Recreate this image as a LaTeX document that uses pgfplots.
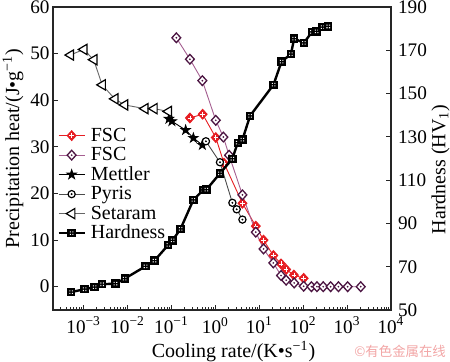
\documentclass[border=0pt]{standalone}
\usepackage{fontspec}
\setmainfont{Liberation Serif}
\newfontfamily\cjk{Noto Sans CJK SC}
\usepackage{pgfplots}
\pgfplotsset{compat=1.18}
\definecolor{fscred}{RGB}{230,30,35}
\definecolor{fscpur}{RGB}{75,20,65}
\definecolor{fscpurline}{RGB}{165,95,145}
\definecolor{wmark}{RGB}{242,165,165}

\pgfdeclareplotmark{rdiam}{\pgfscope
 \pgfsetlinewidth{0.5pt}\pgfsetfillcolor{fscred}\pgfsetstrokecolor{fscred}%
 \pgfpathmoveto{\pgfqpoint{0pt}{1.1\pgfplotmarksize}}%
 \pgfpathlineto{\pgfqpoint{\pgfplotmarksize}{0pt}}%
 \pgfpathlineto{\pgfqpoint{0pt}{-1.1\pgfplotmarksize}}%
 \pgfpathlineto{\pgfqpoint{-\pgfplotmarksize}{0pt}}%
 \pgfpathclose\pgfusepathqfillstroke
 \pgfsetstrokecolor{white}\pgfsetlinewidth{0.35pt}%
 \pgfpathmoveto{\pgfqpoint{0pt}{0.55\pgfplotmarksize}}\pgfpathlineto{\pgfqpoint{0pt}{-0.55\pgfplotmarksize}}%
 \pgfpathmoveto{\pgfqpoint{-0.5\pgfplotmarksize}{0pt}}\pgfpathlineto{\pgfqpoint{0.5\pgfplotmarksize}{0pt}}%
 \pgfusepathqstroke\endpgfscope}
\pgfdeclareplotmark{pdiam}{\pgfscope
 \pgfsetlinewidth{0.65pt}\pgfsetfillcolor{white}\pgfsetstrokecolor{fscpur}%
 \pgfpathmoveto{\pgfqpoint{0pt}{1.1\pgfplotmarksize}}%
 \pgfpathlineto{\pgfqpoint{\pgfplotmarksize}{0pt}}%
 \pgfpathlineto{\pgfqpoint{0pt}{-1.1\pgfplotmarksize}}%
 \pgfpathlineto{\pgfqpoint{-\pgfplotmarksize}{0pt}}%
 \pgfpathclose\pgfusepathqfillstroke
 \pgfsetfillcolor{fscpur}\pgfpathcircle{\pgfpointorigin}{0.22\pgfplotmarksize}\pgfusepathqfill
 \endpgfscope}
\pgfdeclareplotmark{cdot}{\pgfscope
 \pgfsetlinewidth{0.6pt}\pgfsetfillcolor{white}\pgfsetstrokecolor{black}%
 \pgfpathcircle{\pgfpointorigin}{\pgfplotmarksize}\pgfusepathqfillstroke
 \pgfsetfillcolor{black}\pgfpathcircle{\pgfpointorigin}{0.3\pgfplotmarksize}\pgfusepathqfill
 \endpgfscope}
\pgfdeclareplotmark{fstar}{\pgfscope
 \pgfsetlinewidth{0.4pt}\pgfsetfillcolor{black}\pgfsetstrokecolor{black}%
 \pgfpathmoveto{\pgfqpoint{0pt}{\pgfplotmarksize}}%
 \pgfpathlineto{\pgfqpoint{-0.2245\pgfplotmarksize}{0.309\pgfplotmarksize}}%
 \pgfpathlineto{\pgfqpoint{-0.951\pgfplotmarksize}{0.309\pgfplotmarksize}}%
 \pgfpathlineto{\pgfqpoint{-0.363\pgfplotmarksize}{-0.118\pgfplotmarksize}}%
 \pgfpathlineto{\pgfqpoint{-0.588\pgfplotmarksize}{-0.809\pgfplotmarksize}}%
 \pgfpathlineto{\pgfqpoint{0pt}{-0.382\pgfplotmarksize}}%
 \pgfpathlineto{\pgfqpoint{0.588\pgfplotmarksize}{-0.809\pgfplotmarksize}}%
 \pgfpathlineto{\pgfqpoint{0.363\pgfplotmarksize}{-0.118\pgfplotmarksize}}%
 \pgfpathlineto{\pgfqpoint{0.951\pgfplotmarksize}{0.309\pgfplotmarksize}}%
 \pgfpathlineto{\pgfqpoint{0.2245\pgfplotmarksize}{0.309\pgfplotmarksize}}%
 \pgfpathclose\pgfusepathqfillstroke\endpgfscope}
\pgfdeclareplotmark{tleft}{\pgfscope
 \pgfsetlinewidth{0.6pt}\pgfsetfillcolor{white}\pgfsetstrokecolor{black}%
 \pgfpathmoveto{\pgfqpoint{-\pgfplotmarksize}{0pt}}%
 \pgfpathlineto{\pgfqpoint{0.6\pgfplotmarksize}{0.95\pgfplotmarksize}}%
 \pgfpathlineto{\pgfqpoint{0.6\pgfplotmarksize}{-0.95\pgfplotmarksize}}%
 \pgfpathclose\pgfusepathqfillstroke\endpgfscope}
\pgfdeclareplotmark{sqd}{\pgfscope
 \pgfsetlinewidth{0.5pt}\pgfsetfillcolor{black}\pgfsetstrokecolor{black}%
 \pgfpathrectangle{\pgfqpoint{-\pgfplotmarksize}{-\pgfplotmarksize}}{\pgfqpoint{2\pgfplotmarksize}{2\pgfplotmarksize}}\pgfusepathqfillstroke
 \pgfsetfillcolor{white}%
 \pgfpathrectangle{\pgfqpoint{0.2\pgfplotmarksize}{0.2\pgfplotmarksize}}{\pgfqpoint{0.28\pgfplotmarksize}{0.28\pgfplotmarksize}}%
 \pgfpathrectangle{\pgfqpoint{-0.48\pgfplotmarksize}{0.2\pgfplotmarksize}}{\pgfqpoint{0.28\pgfplotmarksize}{0.28\pgfplotmarksize}}%
 \pgfpathrectangle{\pgfqpoint{0.2\pgfplotmarksize}{-0.48\pgfplotmarksize}}{\pgfqpoint{0.28\pgfplotmarksize}{0.28\pgfplotmarksize}}%
 \pgfpathrectangle{\pgfqpoint{-0.48\pgfplotmarksize}{-0.48\pgfplotmarksize}}{\pgfqpoint{0.28\pgfplotmarksize}{0.28\pgfplotmarksize}}%
 \pgfusepathqfill\endpgfscope}

\pgfplotsset{
 sRed/.style={color=fscred, line width=0.45pt, mark=rdiam, mark size=2.2pt},
 sPur/.style={color=fscpurline, line width=0.45pt, mark=pdiam, mark size=2.2pt},
 sMet/.style={color=black, line width=0.45pt, mark=fstar, mark size=2.5pt},
 sPyr/.style={color=black!70, line width=0.45pt, mark=cdot, mark size=1.8pt},
 sSet/.style={color=black!60, line width=0.45pt, mark=tleft, mark size=2.7pt},
 sHard/.style={color=black, line width=1.2pt, mark=sqd, mark size=1.85pt},
}

\begin{document}
\begin{tikzpicture}
\pgfplotsset{every axis/.append style={
  scale only axis, width=169pt, height=151.5pt,
  xmode=log, xmin=2e-4, xmax=1e4,
  tick align=inside, major tick length=2.5pt, minor tick length=1.4pt,
  /pgf/number format/assume math mode=true,
  axis line style={line width=0.6pt, black!85},
  every tick/.style={black!85, line width=0.5pt},
  ticklabel style={font=\fontsize{9.6}{11}\selectfont},
  label style={font=\fontsize{10}{12}\selectfont},
}}
\begin{axis}[
  ymin=-5, ymax=60, ytick={0,10,20,30,40,50,60},
  xtick={1e-3,1e-2,1e-1,1,10,100,1000,10000},
  xticklabels={10\textsuperscript{−3},10\textsuperscript{−2},10\textsuperscript{−1},10\textsuperscript{0},10\textsuperscript{1},10\textsuperscript{2},10\textsuperscript{3},10\textsuperscript{4}},
  minor xtick={2e-4,3e-4,4e-4,5e-4,6e-4,7e-4,8e-4,9e-4,2e-3,3e-3,4e-3,5e-3,6e-3,7e-3,8e-3,9e-3,0.02,0.03,0.04,0.05,0.06,0.07,0.08,0.09,0.2,0.3,0.4,0.5,0.6,0.7,0.8,0.9,2,3,4,5,6,7,8,9,20,30,40,50,60,70,80,90,200,300,400,500,600,700,800,900,2000,3000,4000,5000,6000,7000,8000,9000},
  xtick pos=left, ytick pos=left,
  yticklabel style={inner xsep=1.5pt},
  xlabel={Cooling rate/(K•s\textsuperscript{−1})},
  ylabel={Precipitation heat/(J•g\textsuperscript{−1})},
  xlabel style={at={(ticklabel cs:0.534)}},
  ylabel style={at={(ticklabel cs:0.533)}},
  xlabel shift=-3pt, ylabel shift=-1.5pt,
]
\addplot[sRed] coordinates {(0.263,36.2)(0.513,37.0)(1.02,32.0)(1.57,26.5)(4.13,17.9)(8.32,13.0)(12.5,10.0)(20.9,6.7)(31.3,4.9)(40.9,3.7)(61.4,2.5)(102.6,1.8)};
\addplot[sPur] coordinates {(0.129,53.4)(0.263,48.8)(0.505,44.2)(1.02,35.7)(1.52,32.1)(2.05,28.2)(4.13,19.7)(8.32,11.7)(12.5,8.1)(20.9,5.1)(31.3,2.4)(40.9,1.4)(62.4,0.8)(102.6,0.1)(154,0)(206,0)(286,0)(422,0)(636,0)(1030,0)(2045,0)};
\addplot[sMet] coordinates {(0.0873,36.0)(0.102,35.5)(0.210,33.6)(0.315,31.9)(0.505,30.4)};
\addplot[sPyr] coordinates {(0.609,31.2)(1.27,26.7)(2.44,18.0)(3.06,16.6)(4.13,14.4)};
\addplot[sSet] coordinates {(4.97e-4,49.7)(1e-3,50.9)(1.69e-3,48.7)(2.63e-3,43.3)(5.1e-3,40.3)(8.5e-3,39.0)(0.0247,38.2)(0.0397,38.2)(0.0845,37.6)};
\end{axis}
\begin{axis}[
  clip mode=individual,
  axis x line=none, axis y line*=right, ytick pos=right,
  ymin=50, ymax=190, ytick={50,70,90,110,130,150,170,190},
  ylabel={Hardness (HV\textsubscript{1})},
  ylabel style={at={(ticklabel cs:0.464)}},
  ylabel shift=-4.5pt,
  legend image code/.code={\draw[mark repeat=2,mark phase=2,#1] plot coordinates {(0pt,0pt) (6.5pt,0pt) (13pt,0pt)};},
  legend cell align=left,
  legend style={draw=none, fill=none, at={(0.012,0.609)}, anchor=north west, inner sep=0pt,
    font=\fontsize{10}{12}\selectfont,
    nodes={inner xsep=2.5pt, inner ysep=1pt, text height=6.75pt, text depth=1pt}},
]
\addlegendimage{sRed}
\addlegendimage{sPur}
\addlegendimage{sMet}
\addlegendimage{sPyr}
\addlegendimage{sSet}
\addplot[sHard] coordinates {(5.2e-4,58.3)(1.05e-3,59.6)(1.78e-3,60.6)(2.63e-3,61.9)(5.3e-3,62.2)(8.6e-3,64.5)(0.0256,70.2)(0.041,72.8)(0.0845,80.1)(0.106,82.2)(0.161,87.5)(0.315,100.9)(0.532,105.5)(0.624,105.6)(1.27,113.1)(2.44,119.9)(3.23,127.3)(4.13,128.7)(6.16,139.7)(21.1,154.1)(32.1,164.8)(52.4,168.2)(62.4,175.4)(104,173.4)(158,178.5)(202,178.7)(277,180.7)(372,181.0)};
\legend{FSC,FSC,Mettler,Pyris,Setaram,Hardness}
\node[text=wmark, font=\cjk\fontsize{6.7}{8}\selectfont] at (rel axis cs:1.027,-0.137) {©有色金属在线};
\end{axis}
\pgfresetboundingbox
\path[use as bounding box] (-26.5pt,-25.5pt) rectangle (198.5pt,155pt);
\end{tikzpicture}
\end{document}
